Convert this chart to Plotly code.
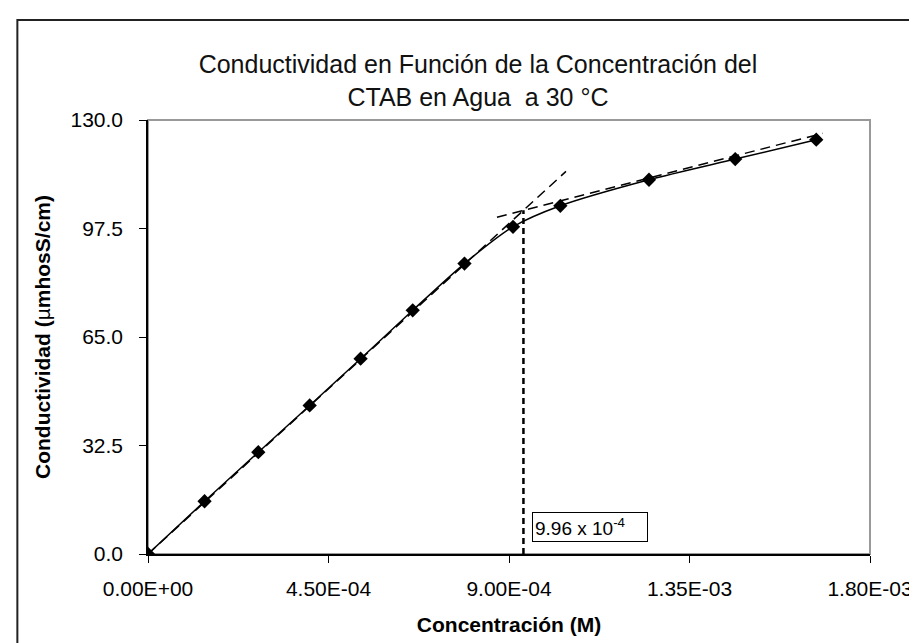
import plotly.graph_objects as go

# Concentracion (M) y conductividad (umhosS/cm)
conc = [0, 1.41e-4, 2.75e-4, 4.03e-4, 5.30e-4, 6.60e-4, 7.89e-4,
        9.10e-4, 1.028e-3, 1.249e-3, 1.464e-3, 1.666e-3]
cond = [0, 15.8, 30.5, 44.5, 58.5, 73.0, 87.0, 98.0, 104.3, 112.1, 118.3, 124.1]

# Rectas de ajuste (pre y post CMC)
fit_pre_x = [0, 1.042e-3]
fit_pre_y = [0, 114.6]
fit_post_x = [8.70e-4, 1.682e-3]
fit_post_y = [100.9, 126.0]

# Linea de la CMC
cmc_x = [9.36e-4, 9.36e-4]
cmc_y = [0, 103.0]
cmc_label = "9.96 x 10<sup>-4</sup>"

x_tick_vals = [0, 4.5e-4, 9.0e-4, 1.35e-3, 1.8e-3]
x_tick_text = ["0.00E+00", "4.50E-04", "9.00E-04", "1.35E-03", "1.80E-03"]
y_tick_vals = [0, 32.5, 65.0, 97.5, 130.0]

FONT = "Liberation Sans, Arial, sans-serif"

fig = go.Figure()

fig.add_trace(go.Scatter(
    x=fit_pre_x, y=fit_pre_y, mode="lines",
    line=dict(color="black", width=1.5, dash="10px,6px"),
    showlegend=False, hoverinfo="skip",
))
fig.add_trace(go.Scatter(
    x=fit_post_x, y=fit_post_y, mode="lines",
    line=dict(color="black", width=1.5, dash="10px,6px"),
    showlegend=False, hoverinfo="skip",
))
fig.add_trace(go.Scatter(
    x=cmc_x, y=cmc_y, mode="lines",
    line=dict(color="black", width=2.5, dash="6px,4px"),
    showlegend=False, hoverinfo="skip",
))
fig.add_trace(go.Scatter(
    x=conc, y=cond, mode="lines+markers",
    line=dict(color="black", width=1.5, shape="spline", smoothing=0.8),
    marker=dict(symbol="diamond", size=11, color="black"),
    showlegend=False,
))

fig.add_annotation(
    x=9.57e-4, y=3.6, xref="x", yref="y",
    xanchor="left", yanchor="bottom",
    text=cmc_label, showarrow=False, width=110, align="left",
    font=dict(family=FONT, size=19, color="black"),
    bordercolor="black", borderwidth=1, borderpad=2, bgcolor="white",
)

# marco exterior del grafico (se sale por la derecha y abajo)
fig.add_shape(
    type="rect", xref="paper", yref="paper",
    x0=(9 - 140) / 724, x1=(940 - 140) / 724,
    y0=(546 - 660) / 434, y1=(546 - 12) / 434,
    line=dict(color="#222222", width=2), layer="below",
)
# borde del area de trazado
fig.add_shape(
    type="rect", xref="paper", yref="paper", x0=0, x1=1, y0=0, y1=1,
    line=dict(color="#999999", width=2), layer="below",
)

fig.update_layout(
    width=917, height=643,
    margin=dict(l=140, r=53, t=112, b=97),
    paper_bgcolor="white", plot_bgcolor="white",
    font=dict(family=FONT, color="black"),
    title=dict(
        text="Conductividad en Función de la Concentración del<br>CTAB en Agua  a 30 °C",
        x=470 / 917, xanchor="center",
        y=1 - 65 / 643, yanchor="middle",
        font=dict(family=FONT, size=25, color="#111111"),
    ),
)
fig.update_xaxes(
    range=[0, 1.8e-3], tickvals=x_tick_vals, ticktext=x_tick_text,
    showgrid=False, zeroline=False,
    showline=True, linecolor="black", linewidth=1.5,
    ticks="outside", ticklen=7, tickcolor="black", ticklabelstandoff=8,
    tickfont=dict(family=FONT, size=21),
    title=dict(text="<b>Concentración (M)</b>", font=dict(family=FONT, size=21), standoff=18),
)
fig.update_yaxes(
    range=[0, 130], tickvals=y_tick_vals, tickformat=".1f",
    showgrid=False, zeroline=False,
    showline=True, linecolor="black", linewidth=1.5,
    ticks="outside", ticklen=7, tickcolor="black", ticklabelstandoff=12,
    tickfont=dict(family=FONT, size=21),
    title=dict(text="<b>Conductividad (</b>µ<b>mhosS/cm)</b>", font=dict(family=FONT, size=21), standoff=14),
)

fig.write_html("out.html")
